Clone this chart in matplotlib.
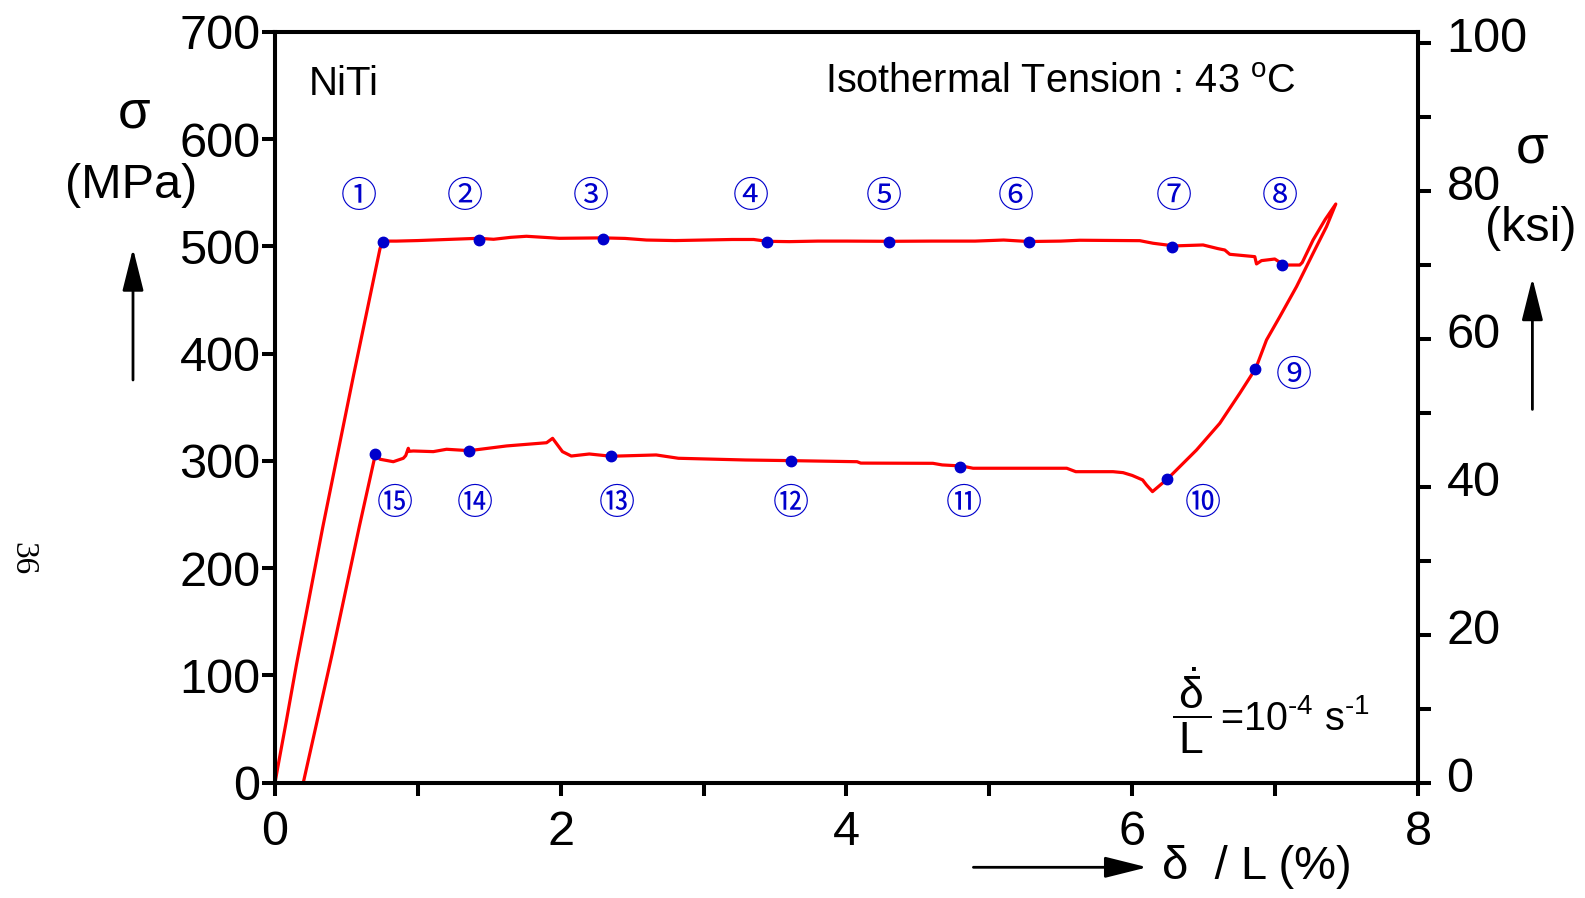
import matplotlib
matplotlib.use('Agg')
import matplotlib.pyplot as plt
from matplotlib.transforms import ScaledTranslation

plt.rcParams['font.family'] = ['Liberation Sans', 'DejaVu Sans']
plt.rcParams['mathtext.fontset'] = 'custom'
plt.rcParams['mathtext.rm'] = 'Liberation Sans'
plt.rcParams['mathtext.it'] = 'Liberation Sans'

# strain (%) / stress (MPa)
strain = [0.00, 0.03, 0.08, 0.15, 0.334, 0.55, 0.735, 0.758,
          0.85, 1.0, 1.2, 1.423, 1.53, 1.65, 1.76, 1.99, 2.293, 2.45, 2.6, 2.8,
          3.0, 3.2, 3.35, 3.446, 3.6, 3.8, 4.0, 4.3, 4.6, 4.9, 5.1, 5.275, 5.5,
          5.633, 6.053, 6.146, 6.293, 6.496, 6.6, 6.648, 6.683, 6.858, 6.87,
          6.905, 6.998, 7.063, 7.173,
          7.19, 7.266, 7.35, 7.425,
          7.36, 7.266, 7.15, 7.033, 6.94, 6.865, 6.753, 6.613, 6.45, 6.251,
          6.142, 6.1, 6.073, 6.0, 5.936, 5.866, 5.605, 5.542, 4.886, 4.808,
          4.67, 4.605, 4.1, 4.074, 3.611, 3.293, 2.824, 2.668, 2.352, 2.2,
          2.074, 2.012, 1.943, 1.901, 1.621, 1.36, 1.201, 1.108, 0.968, 0.94,
          0.933, 0.915, 0.898, 0.828, 0.735, 0.705, 0.59, 0.40, 0.198]
stress = [0, 22, 58, 110, 238, 380, 498, 505,
          505, 505.5, 506.5, 507.6, 506.7, 508.5, 509.5, 507.6, 508, 507.5, 506, 505.5,
          506, 506.5, 506.5, 504.8, 504.5, 505, 505, 504.8, 505, 505, 506, 504.6, 505,
          505.8, 505.4, 503, 500.5, 501.4, 498, 496.7, 492.7, 490.5, 483.7,
          486.8, 488.3, 482.7, 482.7,
          485, 506, 525, 539.6,
          518.5, 493.6, 462.5, 434.5, 412.8, 386.4, 363.1, 335.1, 310.2, 283.8,
          271.4, 277.6, 282.3, 286.5, 289.1, 290, 290, 293.2, 293.2, 295.3,
          296.3, 297.8, 298, 299.3, 300.3, 300.9, 302.5, 305.6, 304.4, 306.5,
          304.6, 308.7, 321.1, 317, 314, 309.6, 310.9, 308.7, 309.3, 309,
          311.8, 305, 302.5, 299.3, 301.6, 307.7, 238.7, 120, 0]

# numbered states 1..15
pt_strain = [0.756, 1.427, 2.295, 3.446, 4.30, 5.275, 6.278, 7.048,
             6.857, 6.243, 4.795, 3.609, 2.352, 1.356, 0.699]
pt_stress = [504.4, 506.3, 507.2, 504.4, 504.4, 504.4, 499.7, 482.7,
             385.6, 282.8, 294.2, 299.8, 304.5, 309.2, 306.4]
pt_names = ['①', '②', '③', '④', '⑤', '⑥', '⑦', '⑧',
            '⑨', '⑩', '⑪', '⑫', '⑬', '⑭', '⑮']
# where each circled number sits
name_x = [0.586, 1.331, 2.21, 3.333, 4.258, 5.184, 6.292, 7.034,
          7.133, 6.497, 4.823, 3.609, 2.394, 1.398, 0.840]
name_y = [545.8] * 8 + [379] + [260] * 6

MPA_TO_KSI = 0.145038
BLUE = '#0000cc'

fig = plt.figure(figsize=(15.85, 8.98), dpi=100)
ax = fig.add_axes([0.1735, 0.1284, 0.7211, 0.836])
ax.plot(strain, stress, color='#ff0000', lw=2.3, zorder=2)
ax.plot(pt_strain, pt_stress, 'o', color=BLUE, ms=7.5, zorder=3)
for nm, x, y in zip(pt_names, name_x, name_y):
    ax.text(x, y, nm, color=BLUE, fontsize=26, ha='center', va='center',
            family=['Noto Sans CJK JP', 'DejaVu Sans'])

ax.set_xlim(0, 8)
ax.set_ylim(0, 700)
ax.set_xticks([0, 2, 4, 6, 8])
ax.set_xticks([1, 3, 5, 7], minor=True)
ax.set_yticks(range(0, 701, 100))
for s in ax.spines.values():
    s.set_linewidth(2.9)
ax.tick_params(which='both', direction='out', length=9.5, width=2.9, labelsize=35)
ax.tick_params(axis='x', pad=10)
ax.tick_params(axis='y', pad=1)

ax2 = ax.twinx()
ax2.set_ylim(0, 700 * MPA_TO_KSI)
ax2.set_yticks(range(0, 101, 20))
ax2.set_yticks(range(10, 101, 20), minor=True)
for s in ax2.spines.values():
    s.set_linewidth(2.9)
ax2.tick_params(which='both', direction='out', length=9.5, width=2.9, labelsize=35, pad=11)
up = ScaledTranslation(0, 8.5 / 100, fig.dpi_scale_trans)
for lab in ax2.get_yticklabels():
    lab.set_transform(lab.get_transform() + up)

ax.text(0.233, 641.3, 'NiTi', fontsize=29, ha='left', va='baseline')
ax.text(3.85, 643.1, r'Isothermal Tension : 43 $^{\mathrm{o}}$C', fontsize=28.5,
        ha='left', va='baseline')
# strain rate note
ax.text(6.28, 49.3, r'$\dfrac{\,\dot{\delta}\,}{\,\mathrm{L}\,}$',
        fontsize=32, ha='left', va='baseline')
ax.text(6.613, 49.3, r'=10$^{‐4}$ s$^{‐1}$', fontsize=28.5, ha='left', va='baseline')

W, H = 1585.0, 898.0
fig.text(134.4 / W, 1 - 113.2 / H, 'σ', fontsize=38, ha='center', va='center')
fig.text(131 / W, 1 - 186 / H, '(MPa)', fontsize=35, ha='center', va='center')
fig.text(1532.4 / W, 1 - 148.6 / H, 'σ', fontsize=38, ha='center', va='center')
fig.text(1530.3 / W, 1 - 228.4 / H, '(ksi)', fontsize=35, ha='center', va='center')
fig.text(1162.4 / W, 1 - 867 / H, 'δ  / L (%)', fontsize=34, ha='left', va='center')
fig.text(22.2 / W, 1 - 559 / H, '36', fontsize=24, family='Liberation Serif',
         rotation=-90, ha='center', va='center')

arrow = dict(arrowstyle='-|>,head_length=2.6,head_width=0.65', mutation_scale=10,
             lw=2, color='k', shrinkA=0, shrinkB=0)
ax.annotate('', xy=(133 / W, 1 - 248.5 / H), xytext=(133 / W, 1 - 380 / H),
            xycoords='figure fraction', textcoords='figure fraction', arrowprops=arrow)
ax.annotate('', xy=(1532.4 / W, 1 - 278 / H), xytext=(1532.4 / W, 1 - 409.4 / H),
            xycoords='figure fraction', textcoords='figure fraction', arrowprops=arrow)
ax.annotate('', xy=(1147.2 / W, 1 - 867.3 / H), xytext=(973.4 / W, 1 - 867.3 / H),
            xycoords='figure fraction', textcoords='figure fraction', arrowprops=arrow)

fig.savefig('out.png', dpi=100)
